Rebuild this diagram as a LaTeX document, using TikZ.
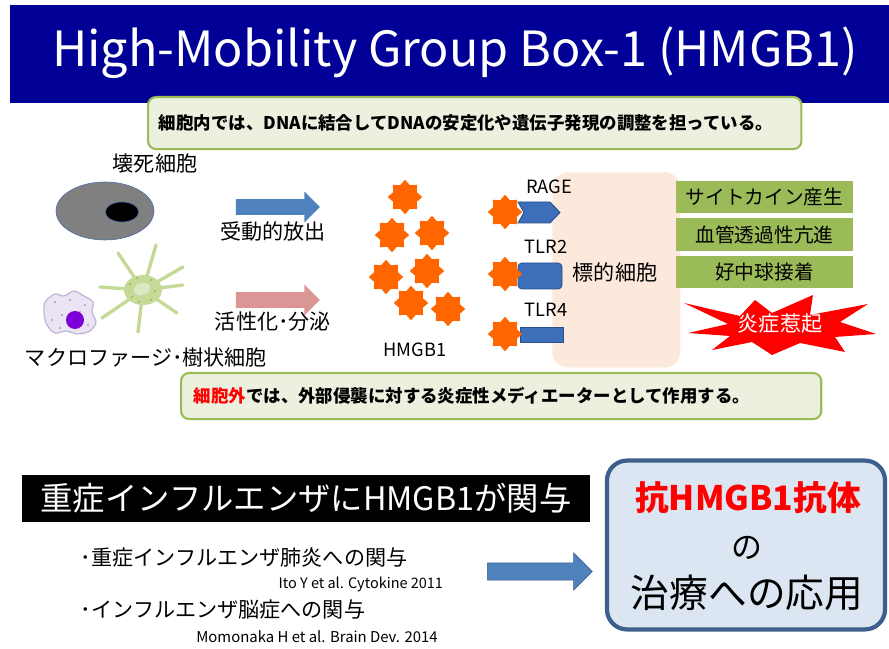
\documentclass[tikz,border=0pt]{standalone}
\usepackage{fontspec}
\setmainfont{Noto Sans CJK JP}
\usetikzlibrary{positioning, shapes.geometric, shapes.arrows}
\definecolor{TitleNavy}{RGB}{0, 0, 150}
\definecolor{NoteGreen}{RGB}{155, 187, 89}
\definecolor{NoteFill}{RGB}{235, 241, 222}
\definecolor{ArrowBlue}{RGB}{79, 129, 189}
\definecolor{ArrowEdge}{RGB}{56, 93, 138}
\definecolor{ArrowPink}{RGB}{217, 150, 148}
\definecolor{StarOrange}{RGB}{255, 102, 0}
\definecolor{CellPeach}{RGB}{252, 233, 219}
\definecolor{CellEdge}{RGB}{70, 110, 170}
\definecolor{DendGreen}{RGB}{196, 218, 150}
\definecolor{DendDark}{RGB}{150, 185, 100}
\definecolor{MacroFill}{RGB}{234, 228, 244}
\definecolor{MacroEdge}{RGB}{190, 176, 214}
\definecolor{MacroCore}{RGB}{125, 0, 215}
\definecolor{ReceptorBlue}{RGB}{60, 110, 185}
\definecolor{ReceptorEdge}{RGB}{40, 80, 140}
\definecolor{BoxBlue}{RGB}{220, 230, 242}
\definecolor{BoxEdge}{RGB}{60, 95, 140}

\begin{document}
\begin{tikzpicture}[x=0.025cm, y=-0.025cm, >=stealth, font=\fontsize{15}{18}\selectfont]
    \tikzstyle{note} = [rectangle, draw=NoteGreen, fill=NoteFill, rounded corners=2mm, line width=1.5pt, align=left, anchor=north west, font=\bfseries\fontsize{12.4}{14}\selectfont]
    \tikzstyle{effect} = [rectangle, fill=NoteGreen, minimum width=4.42cm, minimum height=0.8cm, font=\fontsize{14}{16}\selectfont]
    \tikzstyle{hmgb} = [star, star points=8, star point ratio=1.35, fill=StarOrange, inner sep=0pt, minimum size=0.86cm]
    \tikzstyle{release} = [single arrow, inner xsep=0pt, inner ysep=0.19cm, minimum height=2.1cm, single arrow head extend=0.19cm]
    \tikzstyle{receptor} = [fill=ReceptorBlue, draw=ReceptorEdge, line width=0.6pt]
    \tikzstyle{arm} = [DendGreen, line width=2.4pt, line cap=round]
    \tikzstyle{small} = [font=\fontsize{13}{15}\selectfont]

    \useasboundingbox (0,0) rectangle (889,649);

    % title banner
    \node [fill=TitleNavy, anchor=north west, minimum width=21.975cm, minimum height=2.45cm] (banner) at (10,5) {};
    \node [text=white, font=\fontsize{34.5}{38}\selectfont] (title) at (455,53) {High-Mobility Group Box-1 (HMGB1)};

    % notes on the role inside and outside the cell
    \node [note, minimum width=16.33cm, minimum height=1.3cm, inner xsep=0.27cm, text width=15.79cm] (inside) at (147,96) {細胞内では、DNAに結合してDNAの安定化や遺伝子発現の調整を担っている。};

    % necrotic cell
    \node (necrolabel) at (155,163) {壊死細胞};
    \node [ellipse, draw=CellEdge, fill=gray, minimum width=2.45cm, minimum height=1.45cm] (necrotic) at (105,211) {};
    \node [ellipse, draw=CellEdge, fill=black, minimum width=0.83cm, minimum height=0.5cm] (nucleus) at (122,212) {};

    % dendritic cell
    \coordinate (dc) at (143,290);
    \foreach \tip in {(118,253), (156,245), (183,267), (183,285), (177,313), (138,332), (102,318), (100,287)}
      \draw [arm] (dc) -- \tip;
    \node [ellipse, fill=DendGreen, minimum width=0.95cm, minimum height=0.75cm] (dendritic) at (dc) {};
    \node [ellipse, fill=DendGreen!60, draw=DendDark!60, rotate=20, minimum width=0.45cm, minimum height=0.27cm] (dcore) at (142,289) {};
    \foreach \d in {(130,284), (132,297), (139,302), (151,300), (155,291), (151,280), (137,278)}
      \fill [DendDark] \d circle (1.2);

    % macrophage
    \draw [fill=MacroFill, draw=MacroEdge, line width=0.8pt] plot [smooth cycle] coordinates {(45,302) (55,294) (64,296) (74,291) (84,296) (93,302) (92,312) (96,322) (90,331) (78,334) (66,331) (55,333) (47,325) (44,314)};
    \foreach \d in {(55,302), (62,315), (52,320), (85,305), (88,325), (60,328), (70,300), (80,312)}
      \fill [MacroEdge!70!black] \d circle (0.9);
    \node [circle, fill=MacroCore, minimum size=0.45cm, inner sep=0pt] (macrocore) at (75,320) {};
    \node (macrolabel) at (146,357) {マクロファージ･樹状細胞};

    % release routes
    \node [release, fill=ArrowBlue] (passive) at (274,207) {};
    \node (passivelabel) at (273,231) {受動的放出};
    \node [release, fill=ArrowPink] (active) at (274,300) {};
    \node (activelabel) at (273,322) {活性化･分泌};

    % free HMGB1
    \foreach \p [count=\i] in {(405,197), (392,235), (432,233), (386,277), (427,271), (411,303), (448,309)}
      \node [hmgb] (h\i) at \p {};
    \node [small] (hmgblabel) at (415,350) {HMGB1};

    % target cell with receptors
    \node [fill=CellPeach, rounded corners=4mm, anchor=north west, minimum width=3.2cm, minimum height=4.88cm] (target) at (552,172) {};
    \node (targetlabel) at (615,272) {標的細胞};
    \draw [receptor] (518,202) -- (550,202) -- (560,212.5) -- (550,223) -- (518,223) -- (524,212.5) -- cycle;
    \draw [receptor, rounded corners=1mm] (518,263) rectangle (562,289);
    \draw [receptor] (520,327) rectangle (563,342);
    \node [small] (rage) at (549,187) {RAGE};
    \node [small] (tlr2) at (546,247) {TLR2};
    \node [small] (tlr4) at (546,310) {TLR4};
    \node [hmgb] (b1) at (505,212) {};
    \node [hmgb] (b2) at (505,274) {};
    \node [hmgb] (b3) at (505,334) {};

    % responses
    \node [effect] (cytokine) at (764.5,197) {サイトカイン産生};
    \node [effect] (vascular) at (764.5,234.5) {血管透過性亢進};
    \node [effect] (neutro) at (764.5,272) {好中球接着};
    \fill [red] (684,303) -- (740,316) -- (755,300) -- (772,313) -- (813,295) -- (810,315) -- (868,304) -- (840,322) -- (876,334) -- (835,337) -- (845,352) -- (800,343) -- (772,355) -- (752,342) -- (712,350) -- (730,336) -- (688,333) -- (728,324) -- cycle;
    \node [text=white] (inflame) at (780,324) {炎症惹起};

    \node [note, minimum width=16cm, minimum height=1.15cm, inner xsep=0.32cm, text width=15.36cm] (outside) at (180,372) {\textcolor{red}{細胞外}では、外部侵襲に対する炎症性メディエーターとして作用する。};

    % influenza part
    \node [fill=black, text=white, minimum width=14.2cm, minimum height=1.175cm, font=\fontsize{23}{26}\selectfont] (flu) at (306,498.5) {重症インフルエンザにHMGB1が関与};
    \node [anchor=west, font=\fontsize{15}{18}\selectfont] (pneumonia) at (76,557) {･重症インフルエンザ肺炎への関与};
    \node [anchor=east, font=\fontsize{10.3}{12}\selectfont] (ito) at (448,584) {Ito Y et al. Cytokine 2011};
    \node [anchor=west, font=\fontsize{15}{18}\selectfont] (encephalo) at (76,609) {･インフルエンザ脳症への関与};
    \node [font=\fontsize{10.6}{12}\selectfont] (momonaka) at (317,637) {Momonaka H et al. Brain Dev. 2014};

    \node [single arrow, fill=ArrowBlue, draw=ArrowEdge, inner xsep=0pt, inner ysep=0.21cm, minimum height=2.62cm, single arrow head extend=0.25cm] (toward) at (535.5,571.5) {};

    % antibody therapy
    \node [draw=BoxEdge, fill=BoxBlue, line width=3pt, rounded corners=5mm, minimum width=6.95cm, minimum height=4.22cm] (therapy) at (746,545) {};
    \node [text=red, font=\bfseries\fontsize{24}{26}\selectfont] (antibody) at (748,498) {抗HMGB1抗体};
    \node [font=\fontsize{22}{24}\selectfont] (no) at (747,548) {の};
    \node [font=\fontsize{27.5}{30}\selectfont] (apply) at (747,593) {治療への応用};
\end{tikzpicture}
\end{document}
